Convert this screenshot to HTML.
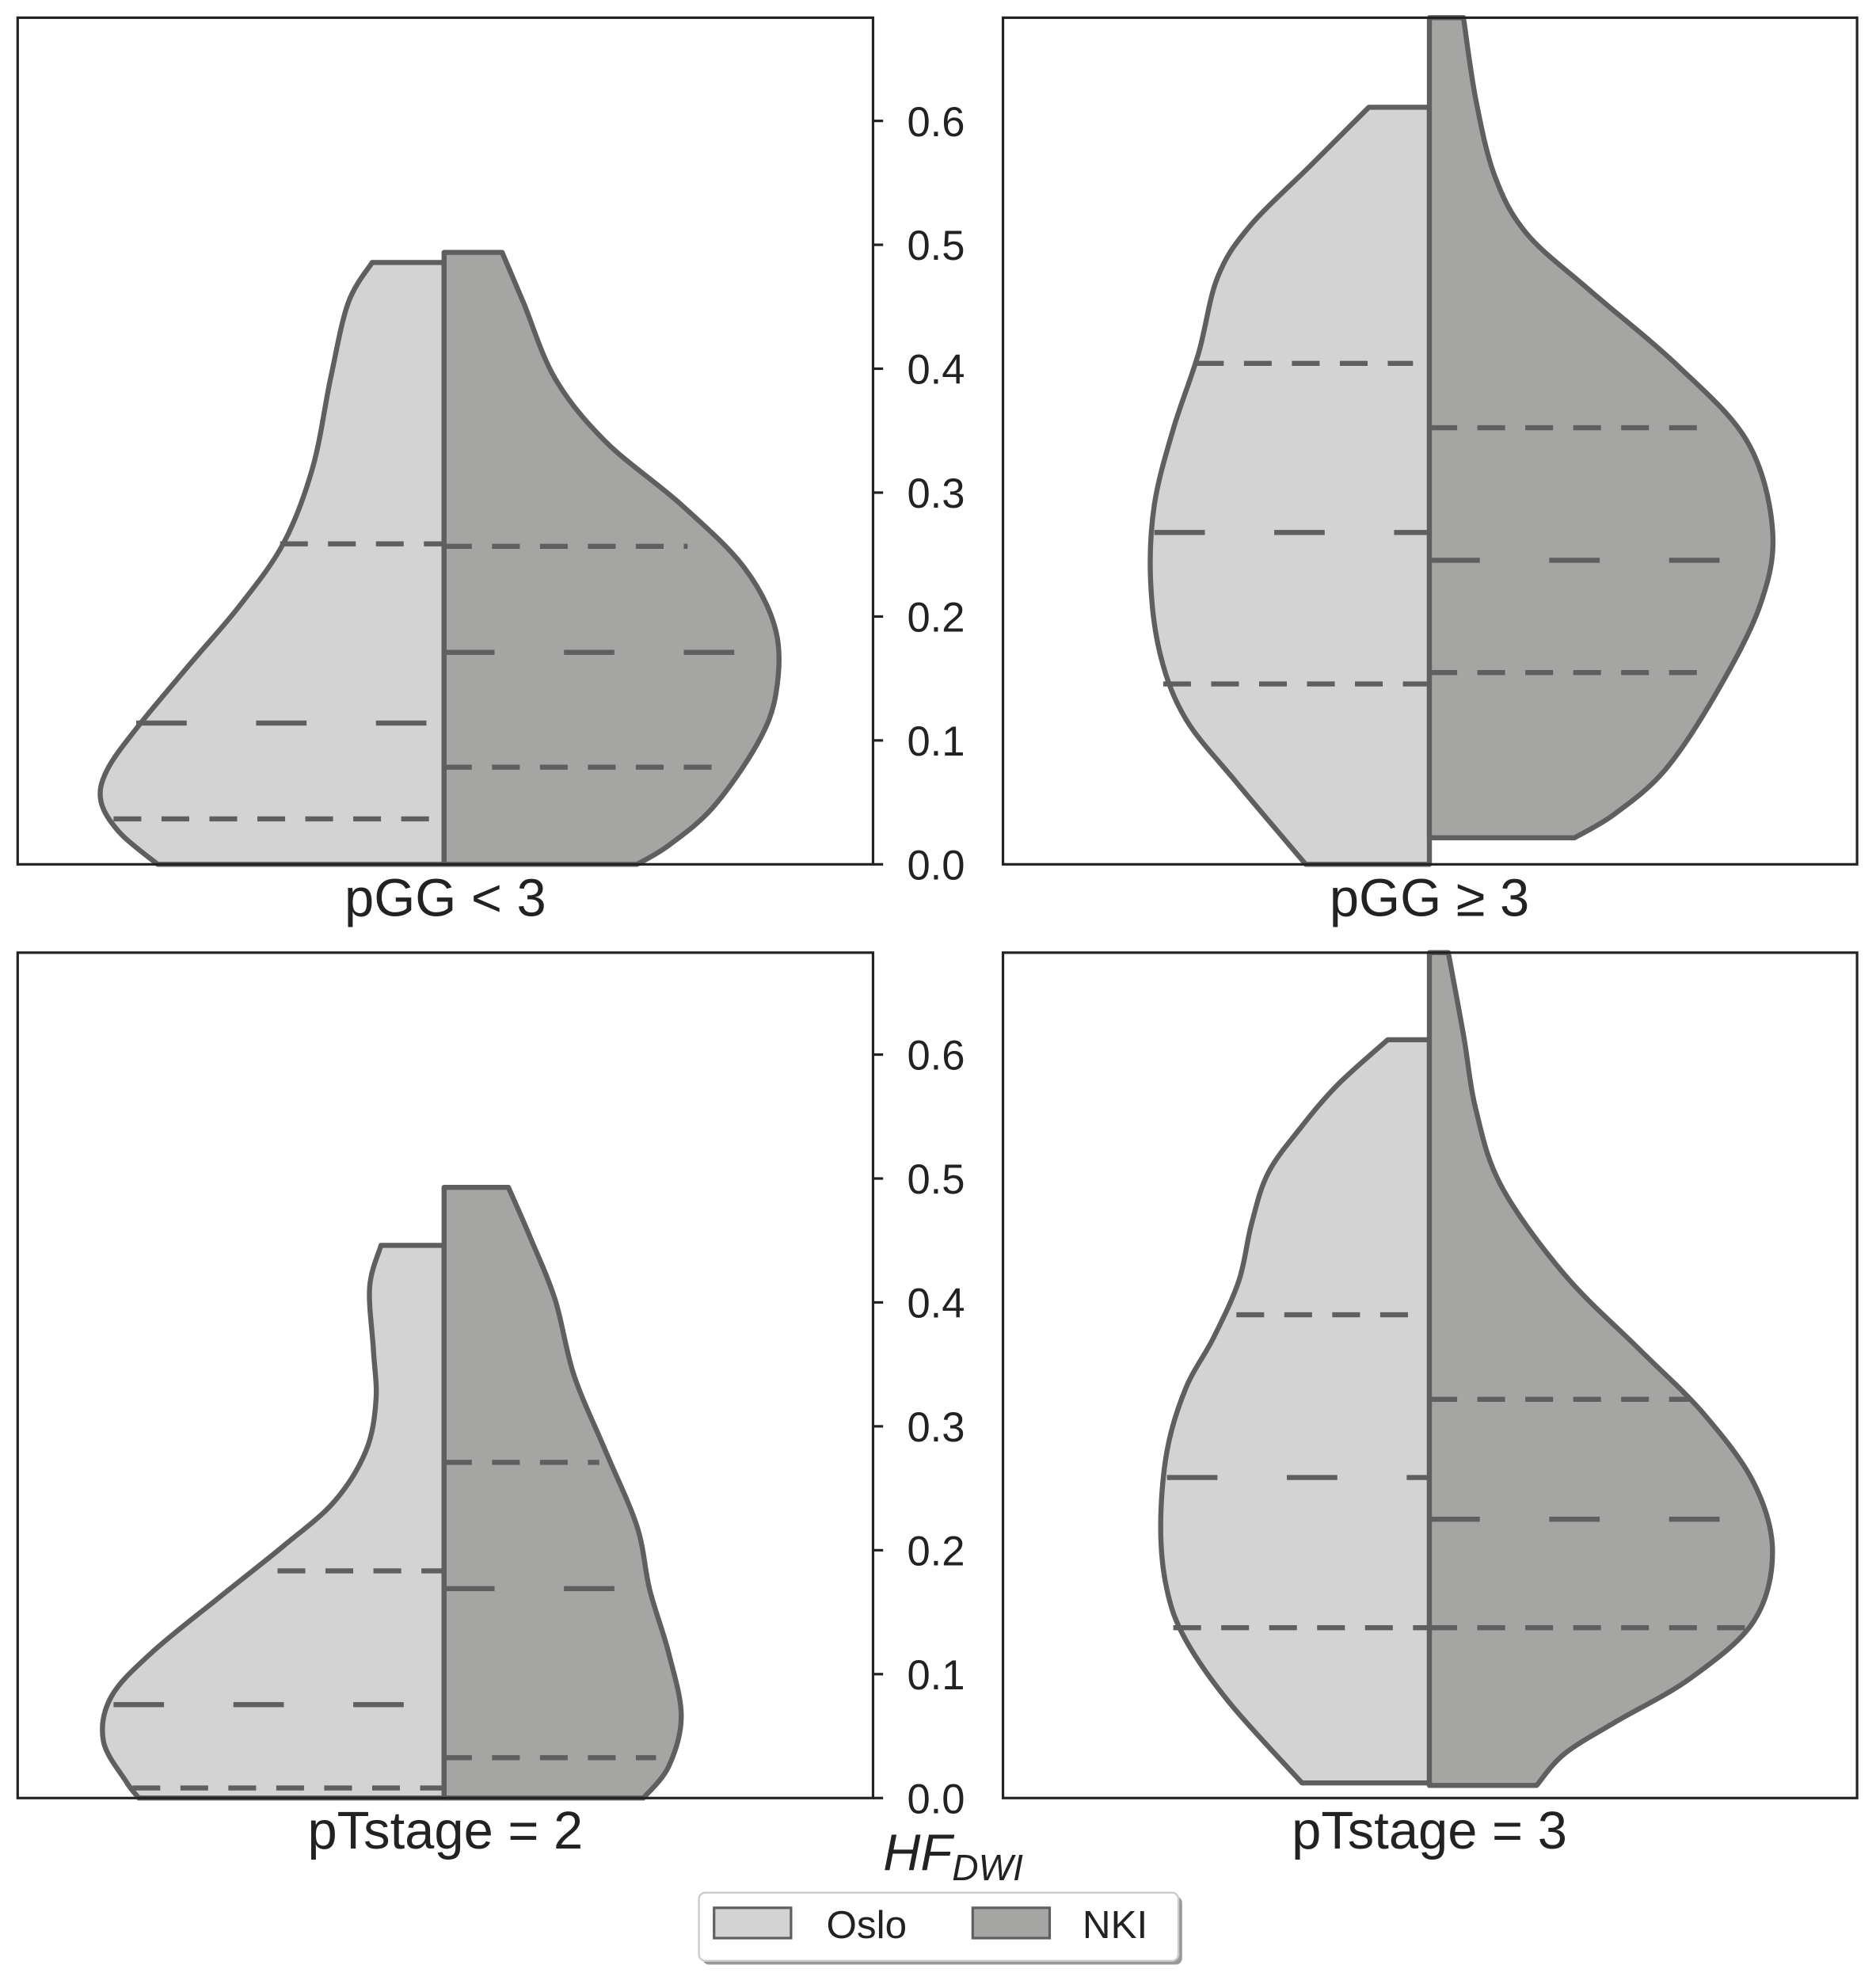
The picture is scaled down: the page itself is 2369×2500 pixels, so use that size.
<!DOCTYPE html>
<html><head><meta charset="utf-8"><style>
html,body{margin:0;padding:0;background:#fff;}
svg{display:block;}
text{font-family:"Liberation Sans",Arial,sans-serif;fill:#222;}
</style></head><body>
<svg id="s" width="2369" height="2500" viewBox="0 0 1487 1569.2" xmlns="http://www.w3.org/2000/svg">
<g id="violins"></g>
<g fill="none" stroke="#222" stroke-width="2">
<rect x="14" y="14" width="678" height="671"/>
<rect x="795" y="14" width="677" height="671"/>
<rect x="14" y="755" width="678" height="670"/>
<rect x="795" y="755" width="677" height="670"/>
</g>
<g id="ticks" stroke="#222" stroke-width="2"></g>
<g id="labels" font-size="33"></g>
<g font-size="42" text-anchor="middle">
<text x="353" y="726">pGG &lt; 3</text>
<text x="1133" y="726">pGG ≥ 3</text>
<text x="353" y="1465">pTstage = 2</text>
<text x="1133" y="1465">pTstage = 3</text>
</g>
<text x="700" y="1482" font-size="41" font-style="italic">HF<tspan font-size="29" dy="8">DWI</tspan></text>
<rect x="557" y="1503" width="380" height="54" rx="5" fill="#999"/>
<rect x="554" y="1500" width="380" height="54" rx="5" fill="#fff" stroke="#ccc" stroke-width="1.5"/>
<rect x="566" y="1512" width="61" height="24" fill="#d3d3d3" stroke="#5f5f5f" stroke-width="2"/>
<rect x="771" y="1512" width="61" height="24" fill="#a5a5a4" stroke="#5f5f5f" stroke-width="2"/>
<text x="655" y="1536" font-size="31">Oslo</text>
<text x="858" y="1536" font-size="31">NKI</text>
</svg>
<script>
var NS="http://www.w3.org/2000/svg";
function smooth(p){var d="M"+p[0][0]+","+p[0][1];for(var i=0;i<p.length-1;i++){var p0=p[i-1]||p[i],p1=p[i],p2=p[i+1],p3=p[i+2]||p2;var c1=[p1[0]+(p2[0]-p0[0])/6,p1[1]+(p2[1]-p0[1])/6],c2=[p2[0]-(p3[0]-p1[0])/6,p2[1]-(p3[1]-p1[1])/6];d+=" C"+c1+" "+c2+" "+p2;}return d;}
function violin(cx,topY,botY,curve,fill){
  var d="M"+cx+","+topY+" L"+curve[0][0]+","+curve[0][1]+" "+smooth(curve).replace(/^M[^ ]+/,"")+" L"+cx+","+botY+" Z";
  var e=document.createElementNS(NS,"path");e.setAttribute("d",d);e.setAttribute("fill",fill);e.setAttribute("stroke","#5f5f5f");e.setAttribute("stroke-width","4");e.setAttribute("stroke-linejoin","round");document.getElementById("violins").appendChild(e);}
function line(x1,x2,y,med){var e=document.createElementNS(NS,"line");e.setAttribute("x1",x1);e.setAttribute("x2",x2);e.setAttribute("y1",y);e.setAttribute("y2",y);e.setAttribute("stroke","#5f5f5f");e.setAttribute("stroke-width","4");e.setAttribute("stroke-dasharray",med?"40 55":"22 16");document.getElementById("violins").appendChild(e);}
var L="#d3d3d3",D="#a5a5a4";
violin(352,208,685,[[295,208],[276,240],[262,300],[248,370],[225,430],[190,480],[150,527],[110,575],[85,610],[80,635],[95,660],[125,685]],L);
violin(352,200,685,[[398,200],[415,240],[440,300],[480,350],[540,400],[590,450],[615,500],[615,550],[600,590],[565,640],[530,670],[505,685]],D);
line(222,352,431);line(108,350,573,1);line(90,352,649);
line(352,545,433);line(352,590,517,1);line(352,565,608);
violin(1133,85,685,[[1085,85],[1040,130],[990,180],[965,220],[950,280],[930,340],[915,400],[912,460],[920,520],[940,570],[980,620],[1035,685]],L);
violin(1133,14,664,[[1160,14],[1170,80],[1185,140],[1210,185],[1260,230],[1330,290],[1385,350],[1405,420],[1395,480],[1360,550],[1320,610],[1280,645],[1248,664]],D);
line(948,1120,288);line(915,1133,422,1);line(922,1133,542);
line(1133,1345,339);line(1133,1395,444,1);line(1133,1350,533);
violin(352,987,1425,[[302,987],[293,1020],[296,1070],[298,1110],[290,1150],[265,1190],[225,1225],[175,1265],[120,1310],[88,1345],[82,1380],[100,1412],[110,1425]],L);
violin(352,941,1425,[[403,941],[420,980],[440,1030],[455,1090],[480,1150],[505,1210],[515,1260],[530,1310],[540,1360],[530,1400],[510,1425]],D);
line(220,352,1245);line(90,345,1351,1);line(105,352,1417);
line(352,475,1159);line(352,495,1259,1);line(352,520,1393);
violin(1133,824,1413,[[1100,824],[1060,860],[1030,895],[1005,930],[992,970],[982,1015],[962,1060],[940,1100],[925,1150],[920,1210],[925,1260],[940,1300],[975,1350],[1032,1413]],L);
violin(1133,755,1415,[[1148,755],[1160,820],[1170,880],[1190,940],[1240,1010],[1300,1070],[1350,1120],[1390,1175],[1405,1230],[1390,1285],[1340,1330],[1280,1365],[1240,1390],[1218,1415]],D);
line(980,1133,1042);line(925,1133,1171,1);line(930,1133,1290);
line(1133,1340,1109);line(1133,1370,1204,1);line(1133,1385,1290);
var tg=document.getElementById("ticks"),lg=document.getElementById("labels");
[[685],[1425]].forEach(function(b){for(var i=0;i<=6;i++){var y=b[0]-i*98.2;var t=document.createElementNS(NS,"line");t.setAttribute("x1",692);t.setAttribute("x2",700);t.setAttribute("y1",y);t.setAttribute("y2",y);tg.appendChild(t);var tx=document.createElementNS(NS,"text");tx.setAttribute("x",719);tx.setAttribute("y",y+12);tx.textContent=(i/10).toFixed(1);lg.appendChild(tx);}});
</script>
</body></html>
